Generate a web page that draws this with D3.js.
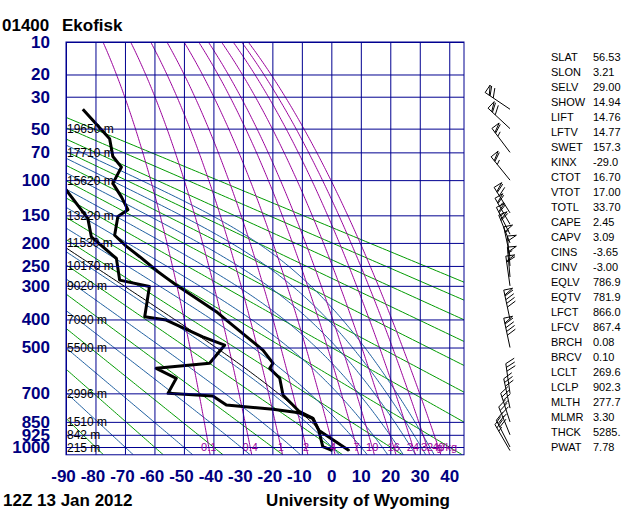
<!DOCTYPE html>
<html>
<head>
<meta charset="utf-8">
<script src="https://cdn.jsdelivr.net/npm/d3@7"></script>
<style>
body { margin: 0; background: #fff; }
svg { display: block; font-family: "Liberation Sans", Arial, sans-serif; }
</style>
</head>
<body>
<svg id="chart" width="640" height="512"></svg>
<script>
//Temperature profile (hPa, degC)
var tempPres = [1023, 900, 830, 794, 708, 629, 585, 563, 510, 402, 375, 298, 264, 229, 207, 185, 152, 141, 122, 104, 85, 74, 58, 37];
var tempVals = [6.0, -4.2, -6.2, -10.8, -16.4, -17.5, -20.9, -19.8, -23.2, -35.6, -39.0, -52.6, -58.8, -65.0, -69.5, -73.5, -72.4, -69.0, -71.2, -74.1, -71.2, -74.1, -75.2, -84.3];

//Dew point profile (hPa, degC)
var dwptPres = [1023, 998, 916, 896, 830, 800, 781, 759, 713, 700, 629, 585, 563, 491, 460, 402, 391, 302, 285, 233, 188, 155, 100];
var dwptVals = [0.4, -2.9, -4.0, -4.3, -6.4, -11.0, -19.8, -35.6, -40.2, -55.4, -52.6, -59.4, -41.3, -36.2, -43.6, -56.0, -63.3, -61.7, -71.8, -72.9, -81.4, -82.6, -92.5];

//Winds (hPa, deg, knots)
var windPres = [1023, 1000, 925, 850, 775, 700, 500, 400, 300, 277, 250, 228, 200, 183, 165, 146, 100, 70, 50, 37];
var windDir = [330, 333, 338, 342, 348, 352, 348, 348, 352, 355, 355, 348, 338, 333, 330, 328, 321, 323, 313, 304];
var windSpd = [25, 30, 35, 35, 30, 30, 90, 90, 60, 55, 50, 55, 60, 65, 65, 70, 65, 65, 70, 70];

//Axes
var isobars = [10, 20, 30, 50, 70, 100, 150, 200, 250, 300, 400, 500, 700, 850, 925, 1000];
var heightLabels = ["", "", "", "19650 m", "17710 m", "15620 m", "13220 m", "11530 m", "10170 m", "9020 m", "7090 m", "5500 m", "2996 m", "1510 m", "842 m", "215 m"];
var tempTicks = [-90, -80, -70, -60, -50, -40, -30, -20, -10, 0, 10, 20, 30, 40];

//Background lines
var dryTheta = [-100, -80, -60, -40, -20, 0, 20, 40, 60, 80, 100, 120, 140, 160, 180];
var moistThetaE = [-70, -50, -30, -10, 10, 30, 50, 70, 90, 110, 130];
var mixRatios = [0.1, 0.4, 1, 2, 4, 7, 10, 16, 24, 32, 40];
var mixLabels = ["0.1", "0.4", "1", "2", "4", "7", "10", "16", "24", "32", "40"];

//Parcel (from the indices)
var sfcPres = 1023, lclPres = 902.3, lclTempK = 269.6, mlTheta = 277.7;

//Station indices
var statNames = ["SLAT", "SLON", "SELV", "SHOW", "LIFT", "LFTV", "SWET", "KINX", "CTOT", "VTOT", "TOTL", "CAPE", "CAPV", "CINS", "CINV", "EQLV", "EQTV", "LFCT", "LFCV", "BRCH", "BRCV", "LCLT", "LCLP", "MLTH", "MLMR", "THCK", "PWAT"];
var statVals = ["56.53", "3.21", "29.00", "14.94", "14.76", "14.77", "157.3", "-29.0", "16.70", "17.00", "33.70", "2.45", "3.09", "-3.65", "-3.00", "786.9", "781.9", "866.0", "867.4", "0.08", "0.10", "269.6", "902.3", "277.7", "3.30", "5285.", "7.78"];

var kap = 0.286;
var gridCol = "#000090", labCol = "#000080";

var svg = d3.select("#chart");
svg.append("rect").attr("width", 640).attr("height", 512).attr("fill", "#fff");

var x = d3.scaleLinear().domain([-90, 45]).range([66, 464]);
var y = d3.scalePow().exponent(kap).domain([10, 1000]).range([42, 447]);
var yBot = y(1050), plotW = 398, plotH = yBot - 42;

svg.append("clipPath").attr("id", "plotClip")
    .append("rect").attr("x", 66).attr("y", 42).attr("width", plotW).attr("height", plotH);

var plot = svg.append("g").attr("clip-path", "url(#plotClip)");

var line = d3.line().x(function(d){ return x(d[1]); }).y(function(d){ return y(d[0]); });

//pressure samples, even in p^kappa
var pa = Math.pow(1050, kap), pb = Math.pow(10, kap);
var pSamples = d3.range(0, 241).map(function(i){
    return Math.pow(pa + (pb - pa) * i / 240, 1 / kap);
});

function satVap(tc){ return 6.112 * Math.exp(17.67 * tc / (tc + 243.5)); }
function mixTemp(w, p){
    var e = (w / 1000) * p / (0.622 + w / 1000);
    var l = Math.log(e / 6.112);
    return 243.5 * l / (17.67 - l);
}
function thetaE(tk, p){
    var es = satVap(tk - 273.15);
    if (es >= p * 0.5) return Infinity;
    var ws = 0.622 * es / (p - es);
    return tk * Math.pow(1000 / p, kap) * Math.exp(2.5e6 * ws / (1004 * tk));
}
function moistTemp(te, p){
    var lo = 100, hi = 340;
    for (var i = 0; i < 40; i++){
        var mid = (lo + hi) / 2;
        if (thetaE(mid, p) > te) hi = mid; else lo = mid;
    }
    return lo - 273.15;
}

//Dry adiabats
dryTheta.forEach(function(th){
    plot.append("path")
        .datum(pSamples.map(function(p){ return [p, (th + 273.15) * Math.pow(p / 1000, kap) - 273.15]; }))
        .attr("d", line).attr("fill", "none").attr("stroke", "#009a00").attr("stroke-width", 1);
});

//Moist adiabats
moistThetaE.forEach(function(te){
    plot.append("path")
        .datum(pSamples.map(function(p){ return [p, moistTemp(te + 273.15, p)]; }))
        .attr("d", line).attr("fill", "none").attr("stroke", "#1f5f9f").attr("stroke-width", 1);
});

//Mixing ratio lines
mixRatios.forEach(function(w){
    plot.append("path")
        .datum(pSamples.map(function(p){ return [p, mixTemp(w, p)]; }))
        .attr("d", line).attr("fill", "none").attr("stroke", "#9a009a").attr("stroke-width", 1);
});

//Grid
svg.append("g").attr("transform", "translate(66,0)")
    .call(d3.axisLeft(y).tickValues(isobars).tickSize(-plotW).tickFormat(""))
    .call(function(g){ g.select(".domain").remove(); g.selectAll("line").attr("stroke", gridCol); });
svg.append("g").attr("transform", "translate(0," + yBot + ")")
    .call(d3.axisBottom(x).tickValues(tempTicks).tickSize(-plotH).tickFormat(""))
    .call(function(g){ g.select(".domain").remove(); g.selectAll("line").attr("stroke", gridCol); });
svg.append("rect").attr("x", 66).attr("y", 42).attr("width", plotW).attr("height", plotH)
    .attr("fill", "none").attr("stroke", gridCol);

//Height labels
isobars.forEach(function(p, i){
    if (!heightLabels[i]) return;
    svg.append("text").attr("x", 67).attr("y", y(p) + 4.5)
        .attr("font-size", 12).attr("fill", "#000").text(heightLabels[i]);
});

//Mixing ratio labels
mixRatios.forEach(function(w, i){
    svg.append("text").attr("x", x(mixTemp(w, 1000))).attr("y", y(1000) + 4)
        .attr("text-anchor", "middle").attr("font-size", 11).attr("fill", "#9a009a").text(mixLabels[i]);
});
svg.append("text").attr("x", 457).attr("y", y(1000) + 4).attr("text-anchor", "end")
    .attr("font-size", 11).attr("fill", "#9a009a").text("g/kg");

//Parcel path
var te0 = thetaE(lclTempK, lclPres);
var parcel = [[sfcPres, mlTheta * Math.pow(sfcPres / 1000, kap) - 273.15], [lclPres, lclTempK - 273.15]]
    .concat(pSamples.filter(function(p){ return p < lclPres; }).map(function(p){ return [p, moistTemp(te0, p)]; }));
plot.append("path").datum(parcel).attr("d", line)
    .attr("fill", "none").attr("stroke", "#000").attr("stroke-width", 1);

//Profiles
plot.append("path").datum(dwptPres.map(function(p, i){ return [p, dwptVals[i]]; }))
    .attr("d", line).attr("fill", "none").attr("stroke", "#000").attr("stroke-width", 3).attr("stroke-linejoin", "round");
plot.append("path").datum(tempPres.map(function(p, i){ return [p, tempVals[i]]; }))
    .attr("d", line).attr("fill", "none").attr("stroke", "#000").attr("stroke-width", 3).attr("stroke-linejoin", "round");

//Axis labels
svg.append("g").attr("transform", "translate(66,0)")
    .call(d3.axisLeft(y).tickValues(isobars).tickSize(0).tickPadding(16).tickFormat(d3.format("d")))
    .call(function(g){
        g.select(".domain").remove();
        g.selectAll("text").attr("fill", labCol).attr("font-size", 17).attr("font-weight", "bold")
            .attr("font-family", "Liberation Sans, Arial, sans-serif");
    });
svg.append("g").attr("transform", "translate(0," + yBot + ")")
    .call(d3.axisBottom(x).tickValues(tempTicks).tickSize(0).tickPadding(15).tickFormat(function(d){ return d < 0 ? "-" + (-d) : d; }))
    .call(function(g){
        g.select(".domain").remove();
        g.selectAll("text").attr("fill", labCol).attr("font-size", 17).attr("font-weight", "bold")
            .attr("font-family", "Liberation Sans, Arial, sans-serif")
            .attr("dx", function(d){ return d < 0 ? -3 : 0; });
    });

//Wind barbs
function drawBarb(g, cx, cy, dir, spd){
    var L = 30, rad = dir * Math.PI / 180;
    var ux = Math.sin(rad), uy = -Math.cos(rad);
    var px = -uy, py = ux;
    var tilt = 25 * Math.PI / 180;
    var bx = px * Math.cos(tilt) + ux * Math.sin(tilt), by = py * Math.cos(tilt) + uy * Math.sin(tilt);
    var tx = cx + L * ux, ty = cy + L * uy;
    var d = "M" + cx + "," + cy + "L" + tx + "," + ty;
    var s = Math.round(spd / 5) * 5, pos = 0;
    while (s >= 50){
        var ax = tx - pos * ux, ay = ty - pos * uy;
        var cx2 = tx - (pos + 5) * ux, cy2 = ty - (pos + 5) * uy;
        d += "M" + ax + "," + ay + "L" + (ax + 9 * px) + "," + (ay + 9 * py) + "L" + cx2 + "," + cy2;
        pos += 6; s -= 50;
    }
    while (s >= 10){
        var qx = tx - pos * ux, qy = ty - pos * uy;
        d += "M" + qx + "," + qy + "L" + (qx + 10 * bx) + "," + (qy + 10 * by);
        pos += 3.8; s -= 10;
    }
    if (s >= 5){
        if (pos === 0) pos = 3.8;
        var hx = tx - pos * ux, hy = ty - pos * uy;
        d += "M" + hx + "," + hy + "L" + (hx + 5 * bx) + "," + (hy + 5 * by);
    }
    g.append("path").attr("d", d).attr("fill", "none").attr("stroke", "#000").attr("stroke-width", 1);
}
var barbs = svg.append("g");
windPres.forEach(function(p, i){ drawBarb(barbs, 510, y(p), windDir[i], windSpd[i]); });

//Station indices
statNames.forEach(function(n, i){
    svg.append("text").attr("x", 551).attr("y", 61 + 15 * i).attr("font-size", 11).attr("fill", "#000").text(n);
    svg.append("text").attr("x", 593).attr("y", 61 + 15 * i).attr("font-size", 11).attr("fill", "#000").text(statVals[i]);
});

//Titles
svg.append("text").attr("x", 2).attr("y", 31).attr("font-size", 17).attr("font-weight", "bold").text("01400");
svg.append("text").attr("x", 62).attr("y", 31).attr("font-size", 17).attr("font-weight", "bold").text("Ekofisk");
svg.append("text").attr("x", 3).attr("y", 506).attr("font-size", 17).attr("font-weight", "bold").text("12Z 13 Jan 2012");
svg.append("text").attr("x", 450).attr("y", 506).attr("text-anchor", "end").attr("font-size", 17).attr("font-weight", "bold").text("University of Wyoming");
</script>
</body>
</html>
